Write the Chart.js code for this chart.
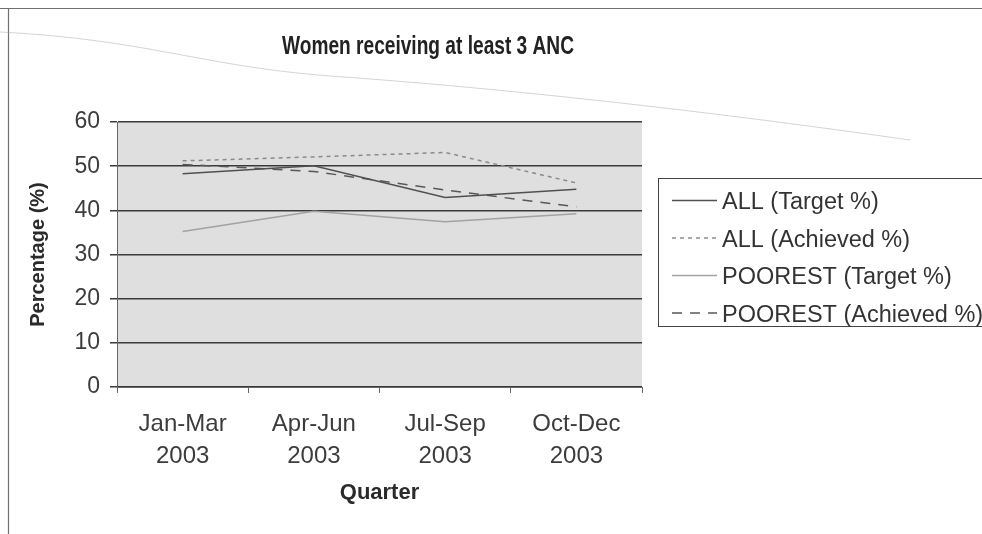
<!DOCTYPE html>
<html>
<head>
<meta charset="utf-8">
<script src="https://cdn.jsdelivr.net/npm/chart.js@4/dist/chart.umd.min.js"></script>
<style>
  html, body { margin: 0; padding: 0; background: #ffffff; }
  #wrap { width: 982px; height: 534px; }
</style>
</head>
<body>
<div id="wrap"><canvas id="c" width="982" height="534"></canvas></div>
<script>
// Quarters on the x axis (two-line labels)
const quarters = [['Jan-Mar', '2003'], ['Apr-Jun', '2003'], ['Jul-Sep', '2003'], ['Oct-Dec', '2003']];

// Percentage of women receiving at least 3 ANC visits
const allTarget       = [48.3, 50.1, 42.9, 44.8];
const allAchieved     = [51.2, 52.1, 53.1, 46.2];
const poorestTarget   = [35.2, 39.8, 37.4, 39.2];
const poorestAchieved = [50.4, 48.8, 44.6, 40.8];

const seriesNames = ['ALL (Target %)', 'ALL (Achieved %)', 'POOREST (Target %)', 'POOREST (Achieved %)'];
const chartTitle = 'Women receiving at least 3 ANC';
const yTitle = 'Percentage (%)';
const xTitle = 'Quarter';
const yMin = 0, yMax = 60, yStep = 10;

const FONT = '"Liberation Sans", Arial, sans-serif';
const NARROW = '"Liberation Sans Narrow", "Arial Narrow", "Liberation Sans", Arial, sans-serif';

// Page frame, title, plot background and the boxed legend
const decor = {
  id: 'decor',
  beforeDraw(chart) {
    const ctx = chart.ctx;
    const a = chart.chartArea;
    ctx.save();
    ctx.fillStyle = '#ffffff';
    ctx.fillRect(0, 0, chart.width, chart.height);

    // frame lines
    ctx.strokeStyle = '#707070';
    ctx.lineWidth = 1.2;
    ctx.beginPath();
    ctx.moveTo(0, 8.5); ctx.lineTo(chart.width, 8.5);
    ctx.moveTo(8.5, 9); ctx.lineTo(8.5, chart.height);
    ctx.stroke();

    // faint sweeping page line
    ctx.strokeStyle = 'rgba(160,160,160,0.45)';
    ctx.lineWidth = 1;
    ctx.beginPath();
    ctx.moveTo(0, 32);
    ctx.bezierCurveTo(150, 40, 200, 66, 330, 76);
    ctx.bezierCurveTo(500, 88, 700, 110, 910, 140);
    ctx.stroke();

    // plot area fill
    ctx.fillStyle = '#dfdfdf';
    ctx.fillRect(a.left, a.top, a.right - a.left, a.bottom - a.top);
    ctx.restore();
  },
  afterDraw(chart) {
    const ctx = chart.ctx;
    ctx.save();
    // title, kept to its narrow set width
    ctx.fillStyle = '#222222';
    ctx.font = 'bold 25px ' + NARROW;
    ctx.textAlign = 'center';
    ctx.textBaseline = 'middle';
    const tw = ctx.measureText(chartTitle).width;
    const sx = tw > 292 ? 292 / tw : 1;
    ctx.save();
    ctx.translate(428, 47);
    ctx.scale(sx, 1);
    ctx.fillText(chartTitle, 0, 0);
    ctx.restore();

    // legend box
    ctx.strokeStyle = '#444444';
    ctx.lineWidth = 1;
    ctx.strokeRect(658.5, 178.5, 400, 148);
    ctx.font = '23.5px ' + FONT;
    ctx.textAlign = 'left';
    ctx.textBaseline = 'alphabetic';
    chart.data.datasets.forEach((ds, i) => {
      const base = 209 + i * 37.5;
      const ly = base - 8.5;
      ctx.save();
      ctx.strokeStyle = ds.borderColor;
      ctx.lineWidth = ds.borderWidth;
      ctx.setLineDash(ds.borderDash || []);
      ctx.beginPath();
      ctx.moveTo(672, ly);
      ctx.lineTo(717, ly);
      ctx.stroke();
      ctx.restore();
      ctx.fillStyle = '#333333';
      ctx.fillText(ds.label, 722, base);
    });
    ctx.restore();
  }
};

new Chart(document.getElementById('c'), {
  type: 'line',
  data: {
    labels: quarters,
    datasets: [
      { label: seriesNames[0], data: allTarget, borderColor: '#505050', borderWidth: 1.5, borderDash: [] },
      { label: seriesNames[1], data: allAchieved, borderColor: '#8a8a8a', borderWidth: 1.5, borderDash: [4, 4] },
      { label: seriesNames[2], data: poorestTarget, borderColor: '#a2a2a2', borderWidth: 1.5, borderDash: [] },
      { label: seriesNames[3], data: poorestAchieved, borderColor: '#585858', borderWidth: 1.5, borderDash: [10, 8] }
    ]
  },
  options: {
    responsive: false,
    animation: false,
    devicePixelRatio: 1,
    layout: { padding: { top: 122, right: 340, left: 0, bottom: 0 } },
    elements: {
      line: { tension: 0, fill: false },
      point: { radius: 0, hoverRadius: 0 }
    },
    plugins: {
      legend: { display: false },
      title: { display: false },
      tooltip: { enabled: false }
    },
    scales: {
      x: {
        type: 'category',
        offset: true,
        grid: { offset: true, drawOnChartArea: false, drawTicks: true, tickLength: 6, color: '#666666', lineWidth: 1 },
        border: { display: true, color: '#666666', width: 1 },
        ticks: {
          color: '#3c3c3c',
          font: { family: FONT, size: 24, lineHeight: 1.333 },
          padding: 15,
          maxRotation: 0,
          autoSkip: false
        },
        title: {
          display: true,
          text: xTitle,
          color: '#2a2a2a',
          font: { family: FONT, size: 22, weight: 'bold', lineHeight: 1.2 },
          padding: { top: 0, bottom: 28 }
        },
        afterFit(scale) { scale.height = 147; }
      },
      y: {
        min: yMin,
        max: yMax,
        ticks: {
          stepSize: yStep,
          color: '#3c3c3c',
          font: { family: FONT, size: 23 },
          padding: 10
        },
        grid: { color: '#3a3a3a', lineWidth: 1.5, drawTicks: true, tickLength: 7 },
        border: { display: true, color: '#666666', width: 1 },
        title: {
          display: true,
          text: yTitle,
          color: '#2a2a2a',
          font: { family: FONT, size: 20, weight: 'bold', lineHeight: 1.2 },
          padding: { top: 26, bottom: 0 }
        },
        afterFit(scale) { scale.width = 117; }
      }
    }
  },
  plugins: [decor]
});
</script>
</body>
</html>
